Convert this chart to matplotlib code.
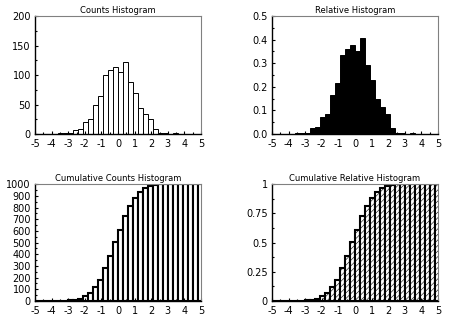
import numpy as np
import matplotlib
matplotlib.use("Agg")
import matplotlib.pyplot as plt
from matplotlib.ticker import MultipleLocator

# bins of width 0.3, left edges from -3.6 to 3.3 (the rest are empty)
bin_width = 0.3
left_edges = [-3.6, -3.3, -3.0, -2.7, -2.4, -2.1, -1.8, -1.5, -1.2, -0.9, -0.6, -0.3,
              0.0, 0.3, 0.6, 0.9, 1.2, 1.5, 1.8, 2.1, 2.4, 2.7, 3.0, 3.3]
counts = [1, 1, 1, 7, 9, 21, 25, 50, 65, 100, 108, 113,
          106, 122, 88, 69, 44, 34, 25, 8, 1, 1, 0, 1]
n_total = 1000

# cumulative plots run on to the right edge of the axes
cum_edges = [-5.1, -4.8, -4.5, -4.2, -3.9] + left_edges + [3.6, 3.9, 4.2, 4.5, 4.8]
cum_counts = np.cumsum([0, 0, 0, 0, 0] + counts + [0, 0, 0, 0, 0])

plt.rcParams['font.family'] = ['DejaVu Sans']
plt.rcParams['font.size'] = 7
plt.rcParams['axes.unicode_minus'] = False
plt.rcParams['hatch.linewidth'] = 0.4

fig = plt.figure(figsize=(4.74, 3.35), dpi=100)
ax1 = fig.add_axes([0.074, 0.600, 0.350, 0.352])
ax2 = fig.add_axes([0.574, 0.600, 0.350, 0.352])
ax3 = fig.add_axes([0.074, 0.102, 0.350, 0.348])
ax4 = fig.add_axes([0.574, 0.102, 0.350, 0.348])


def style(ax, title, ymax, ymajor, yminor, fmt=None):
    ax.set_xlim(-5, 5)
    ax.set_ylim(0, ymax)
    ax.xaxis.set_major_locator(MultipleLocator(1))
    ax.xaxis.set_minor_locator(MultipleLocator(0.5))
    ax.yaxis.set_major_locator(MultipleLocator(ymajor))
    ax.yaxis.set_minor_locator(MultipleLocator(yminor))
    ax.tick_params(which='both', direction='in', length=2.5, width=0.8)
    ax.tick_params(which='minor', length=1.5)
    ax.tick_params(axis='x', which='major', pad=3.5)
    ax.tick_params(axis='y', which='major', pad=3)
    for s in ['top', 'right']:
        ax.spines[s].set_color('#808080')
        ax.spines[s].set_linewidth(0.8)
    for s in ['left', 'bottom']:
        ax.spines[s].set_linewidth(1.0)
    if fmt:
        ax.yaxis.set_major_formatter(fmt)
    ax.set_title(title, fontsize=6, pad=2)


ax1.bar(left_edges, counts, width=bin_width, align='edge',
        color='white', edgecolor='black', linewidth=0.7)
style(ax1, 'Counts Histogram', 200, 50, 25)

rel = [c / (n_total * bin_width) for c in counts]
ax2.bar(left_edges, rel, width=bin_width, align='edge',
        color='black', edgecolor='black', linewidth=0.7)
style(ax2, 'Relative Histogram', 0.5, 0.1, 0.05)

ax3.bar(cum_edges, cum_counts, width=bin_width, align='edge',
        color='white', edgecolor='black', linewidth=1.5)
style(ax3, 'Cumulative Counts Histogram', 1000, 100, 50)

ax4.bar(cum_edges, cum_counts / n_total, width=bin_width, align='edge',
        color='white', edgecolor='black', linewidth=1.5, hatch='//////')
style(ax4, 'Cumulative Relative Histogram', 1, 0.25, 0.125,
      fmt=lambda v, p: '%g' % v)

fig.savefig('out.png', dpi=100)
